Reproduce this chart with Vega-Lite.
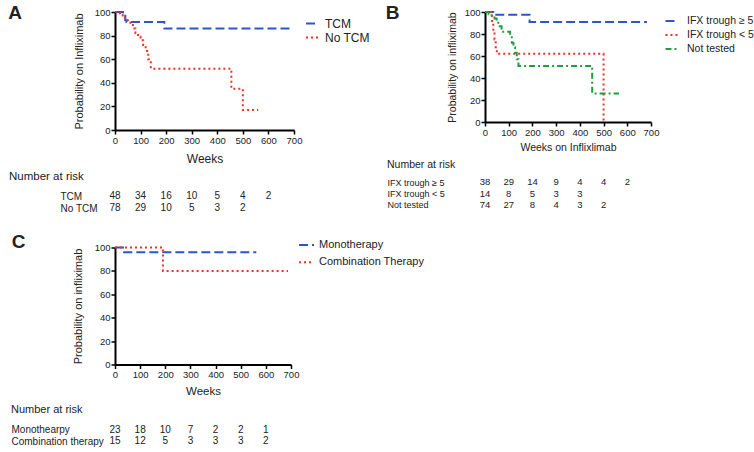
{
 "$schema": "https://vega.github.io/schema/vega-lite/v6.json",
 "padding": {"left": 8, "top": 4, "right": 2, "bottom": 2},
 "background": "white",
 "config": {
  "font": "Liberation Sans",
  "view": {"stroke": null},
  "axis": {"domainColor": "#000", "domainWidth": 2, "tickColor": "#000", "tickWidth": 1.5, "tickSize": 4, "labelFontSize": 9.5, "labelColor": "#222", "titleFontWeight": "normal", "titleColor": "#222", "grid": false, "labelPadding": 1, "labelFlush": false, "labelOverlap": false},
  "legend": {"labelColor": "#222", "symbolStrokeWidth": 2},
  "title": {"color": "#222"},
  "text": {"color": "#222"}
 },
 "resolve": {"scale": {"x": "independent", "y": "independent", "color": "independent", "strokeDash": "independent"}, "legend": {"color": "independent", "strokeDash": "independent"}},
 "spacing": 18.5,
 "vconcat": [
  {
   "spacing": 11,
   "resolve": {"scale": {"x": "independent", "y": "independent", "color": "independent", "strokeDash": "independent"}, "legend": {"color": "independent", "strokeDash": "independent"}},
   "hconcat": [
    {
     "spacing": 5,
     "resolve": {"scale": {"x": "independent", "y": "independent", "color": "independent", "strokeDash": "independent"}, "legend": {"color": "independent", "strokeDash": "independent"}},
     "vconcat": [
      {
       "width": 179, "height": 118,
       "title": {"text": "A", "orient": "left", "anchor": "end", "angle": 0, "align": "right", "baseline": "top", "fontSize": 19, "fontWeight": "bold", "offset": 37.5, "dy": -3},
       "data": {"values": [
        {"group": "TCM", "week": 0, "prob": 100},
        {"group": "TCM", "week": 40, "prob": 93},
        {"group": "TCM", "week": 45, "prob": 91.5},
        {"group": "TCM", "week": 193, "prob": 86},
        {"group": "TCM", "week": 685, "prob": 86},
        {"group": "No TCM", "week": 0, "prob": 100},
        {"group": "No TCM", "week": 10, "prob": 99},
        {"group": "No TCM", "week": 20, "prob": 98},
        {"group": "No TCM", "week": 30, "prob": 97},
        {"group": "No TCM", "week": 40, "prob": 95},
        {"group": "No TCM", "week": 50, "prob": 92},
        {"group": "No TCM", "week": 60, "prob": 89},
        {"group": "No TCM", "week": 70, "prob": 86},
        {"group": "No TCM", "week": 80, "prob": 82},
        {"group": "No TCM", "week": 90, "prob": 79},
        {"group": "No TCM", "week": 100, "prob": 76},
        {"group": "No TCM", "week": 110, "prob": 72},
        {"group": "No TCM", "week": 120, "prob": 67},
        {"group": "No TCM", "week": 130, "prob": 60},
        {"group": "No TCM", "week": 140, "prob": 52},
        {"group": "No TCM", "week": 455, "prob": 35},
        {"group": "No TCM", "week": 500, "prob": 17},
        {"group": "No TCM", "week": 560, "prob": 17}
       ]},
       "mark": {"type": "line", "interpolate": "step-after", "strokeWidth": 2},
       "encoding": {
        "x": {"field": "week", "type": "quantitative", "scale": {"domain": [0, 700], "nice": false}, "axis": {"values": [0, 100, 200, 300, 400, 500, 600, 700], "title": "Weeks", "titleFontSize": 12, "titlePadding": 9}},
        "y": {"field": "prob", "type": "quantitative", "scale": {"domain": [0, 100], "nice": false}, "axis": {"values": [0, 20, 40, 60, 80, 100], "title": "Probability on Infliximab", "titleFontSize": 11, "titlePadding": 10}},
        "color": {"field": "group", "type": "nominal", "scale": {"domain": ["TCM", "No TCM"], "range": ["#2f55c8", "#ee3124"]}, "legend": {"title": null, "labelFontSize": 12, "symbolSize": 169, "rowPadding": 0, "offset": 6, "padding": 4, "labelOffset": 5}},
        "strokeDash": {"field": "group", "type": "nominal", "scale": {"domain": ["TCM", "No TCM"], "range": [[9, 4], [2, 3]]}, "legend": {"title": null, "labelFontSize": 12, "symbolSize": 169, "rowPadding": 0, "offset": 6, "padding": 4, "labelOffset": 5}}
       }
      },
      {
       "width": 179, "height": 24,
       "title": {"text": "Number at risk", "anchor": "start", "frame": "group", "dx": -106, "fontSize": 11.5, "fontWeight": "normal", "offset": 8},
       "data": {"values": [
        {"group": "TCM", "week": 0, "n": 48}, {"group": "TCM", "week": 100, "n": 34}, {"group": "TCM", "week": 200, "n": 16}, {"group": "TCM", "week": 300, "n": 10}, {"group": "TCM", "week": 400, "n": 5}, {"group": "TCM", "week": 500, "n": 4}, {"group": "TCM", "week": 600, "n": 2},
        {"group": "No TCM", "week": 0, "n": 78}, {"group": "No TCM", "week": 100, "n": 29}, {"group": "No TCM", "week": 200, "n": 10}, {"group": "No TCM", "week": 300, "n": 5}, {"group": "No TCM", "week": 400, "n": 3}, {"group": "No TCM", "week": 500, "n": 2}
       ]},
       "mark": {"type": "text", "fontSize": 10},
       "encoding": {
        "x": {"field": "week", "type": "quantitative", "scale": {"domain": [0, 700], "nice": false}, "axis": null},
        "y": {"field": "group", "type": "nominal", "scale": {"type": "point", "domain": ["TCM", "No TCM"], "padding": 0.5}, "axis": {"title": null, "domain": false, "ticks": false, "tickSize": 0, "labelAlign": "left", "labelPadding": 55, "labelFontSize": 10}},
        "text": {"field": "n", "type": "quantitative"}
       }
      }
     ]
    },
    {
     "spacing": 6.5,
     "resolve": {"scale": {"x": "independent", "y": "independent", "color": "independent", "strokeDash": "independent"}, "legend": {"color": "independent", "strokeDash": "independent"}},
     "vconcat": [
      {
       "width": 166, "height": 110,
       "title": {"text": "B", "orient": "left", "anchor": "end", "angle": 0, "align": "right", "baseline": "top", "fontSize": 19, "fontWeight": "bold", "offset": 34.5, "dy": -3},
       "data": {"values": [
        {"group": "IFX trough ≥ 5", "week": 0, "prob": 100},
        {"group": "IFX trough ≥ 5", "week": 35, "prob": 97.5},
        {"group": "IFX trough ≥ 5", "week": 188, "prob": 91},
        {"group": "IFX trough ≥ 5", "week": 683, "prob": 91},
        {"group": "IFX trough < 5", "week": 0, "prob": 100},
        {"group": "IFX trough < 5", "week": 30, "prob": 90},
        {"group": "IFX trough < 5", "week": 35, "prob": 82},
        {"group": "IFX trough < 5", "week": 40, "prob": 75},
        {"group": "IFX trough < 5", "week": 45, "prob": 68},
        {"group": "IFX trough < 5", "week": 50, "prob": 62},
        {"group": "IFX trough < 5", "week": 500, "prob": 0},
        {"group": "Not tested", "week": 0, "prob": 100},
        {"group": "Not tested", "week": 15, "prob": 98},
        {"group": "Not tested", "week": 28, "prob": 97},
        {"group": "Not tested", "week": 40, "prob": 94},
        {"group": "Not tested", "week": 49, "prob": 92},
        {"group": "Not tested", "week": 56, "prob": 87},
        {"group": "Not tested", "week": 70, "prob": 82},
        {"group": "Not tested", "week": 106, "prob": 78},
        {"group": "Not tested", "week": 113, "prob": 72},
        {"group": "Not tested", "week": 120, "prob": 68},
        {"group": "Not tested", "week": 127, "prob": 63},
        {"group": "Not tested", "week": 134, "prob": 57},
        {"group": "Not tested", "week": 141, "prob": 51},
        {"group": "Not tested", "week": 452, "prob": 26},
        {"group": "Not tested", "week": 565, "prob": 26}
       ]},
       "mark": {"type": "line", "interpolate": "step-after", "strokeWidth": 2},
       "encoding": {
        "x": {"field": "week", "type": "quantitative", "scale": {"domain": [0, 700], "nice": false}, "axis": {"values": [0, 100, 200, 300, 400, 500, 600, 700], "title": "Weeks on Inflixlimab", "titleFontSize": 10.5, "titlePadding": 6}},
        "y": {"field": "prob", "type": "quantitative", "scale": {"domain": [0, 100], "nice": false}, "axis": {"values": [0, 20, 40, 60, 80, 100], "title": "Probability on infliximab", "titleFontSize": 10.5, "titlePadding": 6.5}},
        "color": {"field": "group", "type": "nominal", "scale": {"domain": ["IFX trough ≥ 5", "IFX trough < 5", "Not tested"], "range": ["#2f55c8", "#ee3124", "#1f9e3f"]}, "legend": {"title": null, "labelFontSize": 10.5, "symbolSize": 170, "rowPadding": 0, "offset": 12, "padding": 1, "labelOffset": 7}},
        "strokeDash": {"field": "group", "type": "nominal", "scale": {"domain": ["IFX trough ≥ 5", "IFX trough < 5", "Not tested"], "range": [[9, 4], [2, 3], [6, 3, 2, 3]]}, "legend": {"title": null, "labelFontSize": 10.5, "symbolSize": 170, "rowPadding": 0, "offset": 12, "padding": 1, "labelOffset": 7}}
       }
      },
      {
       "width": 166, "height": 34,
       "title": {"text": "Number at risk", "anchor": "start", "frame": "group", "dx": -98, "fontSize": 10.5, "fontWeight": "normal", "offset": 6.5},
       "data": {"values": [
        {"group": "IFX trough ≥ 5", "week": 0, "n": 38}, {"group": "IFX trough ≥ 5", "week": 100, "n": 29}, {"group": "IFX trough ≥ 5", "week": 200, "n": 14}, {"group": "IFX trough ≥ 5", "week": 300, "n": 9}, {"group": "IFX trough ≥ 5", "week": 400, "n": 4}, {"group": "IFX trough ≥ 5", "week": 500, "n": 4}, {"group": "IFX trough ≥ 5", "week": 600, "n": 2},
        {"group": "IFX trough < 5", "week": 0, "n": 14}, {"group": "IFX trough < 5", "week": 100, "n": 8}, {"group": "IFX trough < 5", "week": 200, "n": 5}, {"group": "IFX trough < 5", "week": 300, "n": 3}, {"group": "IFX trough < 5", "week": 400, "n": 3},
        {"group": "Not tested", "week": 0, "n": 74}, {"group": "Not tested", "week": 100, "n": 27}, {"group": "Not tested", "week": 200, "n": 8}, {"group": "Not tested", "week": 300, "n": 4}, {"group": "Not tested", "week": 400, "n": 3}, {"group": "Not tested", "week": 500, "n": 2}
       ]},
       "mark": {"type": "text", "fontSize": 9.5},
       "encoding": {
        "x": {"field": "week", "type": "quantitative", "scale": {"domain": [0, 700], "nice": false}, "axis": null},
        "y": {"field": "group", "type": "nominal", "scale": {"type": "point", "domain": ["IFX trough ≥ 5", "IFX trough < 5", "Not tested"], "padding": 0.5}, "axis": {"title": null, "domain": false, "ticks": false, "tickSize": 0, "labelAlign": "left", "labelPadding": 98, "labelFontSize": 9}},
        "text": {"field": "n", "type": "quantitative"}
       }
      }
     ]
    }
   ]
  },
  {
   "spacing": 6.5,
   "resolve": {"scale": {"x": "independent", "y": "independent", "color": "independent", "strokeDash": "independent"}, "legend": {"color": "independent", "strokeDash": "independent"}},
   "vconcat": [
    {
     "width": 176, "height": 117,
     "title": {"text": "C", "orient": "left", "anchor": "end", "angle": 0, "align": "right", "baseline": "top", "fontSize": 19, "fontWeight": "bold", "offset": 33, "dy": -10},
     "data": {"values": [
      {"group": "Monotherapy", "week": 0, "prob": 100},
      {"group": "Monotherapy", "week": 36, "prob": 96},
      {"group": "Monotherapy", "week": 562, "prob": 96},
      {"group": "Combination Therapy", "week": 0, "prob": 100},
      {"group": "Combination Therapy", "week": 191, "prob": 80},
      {"group": "Combination Therapy", "week": 688, "prob": 80}
     ]},
     "mark": {"type": "line", "interpolate": "step-after", "strokeWidth": 2},
     "encoding": {
      "x": {"field": "week", "type": "quantitative", "scale": {"domain": [0, 700], "nice": false}, "axis": {"values": [0, 100, 200, 300, 400, 500, 600, 700], "title": "Weeks", "titleFontSize": 11.5, "titlePadding": 6}},
      "y": {"field": "prob", "type": "quantitative", "scale": {"domain": [0, 100], "nice": false}, "axis": {"values": [0, 20, 40, 60, 80, 100], "title": "Probability on infliximab", "titleFontSize": 11, "titlePadding": 11}},
      "color": {"field": "group", "type": "nominal", "scale": {"domain": ["Monotherapy", "Combination Therapy"], "range": ["#2f55c8", "#ee3124"]}, "legend": {"title": null, "labelFontSize": 11, "symbolSize": 225, "rowPadding": 3.3, "offset": 17, "padding": -11, "labelOffset": 4}},
      "strokeDash": {"field": "group", "type": "nominal", "scale": {"domain": ["Monotherapy", "Combination Therapy"], "range": [[9, 4], [2, 3]]}, "legend": {"title": null, "labelFontSize": 11, "symbolSize": 225, "rowPadding": 3.3, "offset": 17, "padding": -11, "labelOffset": 4}}
     }
    },
    {
     "width": 176, "height": 23,
     "title": {"text": "Number at risk", "anchor": "start", "frame": "group", "dx": -104, "fontSize": 11, "fontWeight": "normal", "offset": 9.5},
     "data": {"values": [
      {"group": "Monothearpy", "week": 0, "n": 23}, {"group": "Monothearpy", "week": 100, "n": 18}, {"group": "Monothearpy", "week": 200, "n": 10}, {"group": "Monothearpy", "week": 300, "n": 7}, {"group": "Monothearpy", "week": 400, "n": 2}, {"group": "Monothearpy", "week": 500, "n": 2}, {"group": "Monothearpy", "week": 600, "n": 1},
      {"group": "Combination therapy", "week": 0, "n": 15}, {"group": "Combination therapy", "week": 100, "n": 12}, {"group": "Combination therapy", "week": 200, "n": 5}, {"group": "Combination therapy", "week": 300, "n": 3}, {"group": "Combination therapy", "week": 400, "n": 3}, {"group": "Combination therapy", "week": 500, "n": 3}, {"group": "Combination therapy", "week": 600, "n": 2}
     ]},
     "mark": {"type": "text", "fontSize": 10},
     "encoding": {
      "x": {"field": "week", "type": "quantitative", "scale": {"domain": [0, 700], "nice": false}, "axis": null},
      "y": {"field": "group", "type": "nominal", "scale": {"type": "point", "domain": ["Monothearpy", "Combination therapy"], "padding": 0.5}, "axis": {"title": null, "domain": false, "ticks": false, "tickSize": 0, "labelAlign": "left", "labelPadding": 104, "labelFontSize": 10}},
      "text": {"field": "n", "type": "quantitative"}
     }
    }
   ]
  }
 ]
}
